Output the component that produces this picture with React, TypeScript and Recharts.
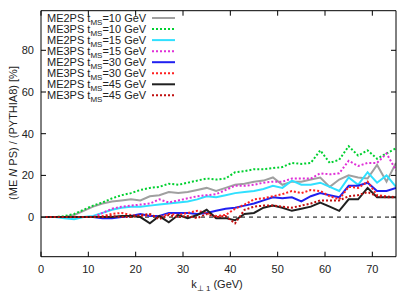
import {
	Legend,
	Line,
	LineChart,
	ReferenceLine,
	XAxis,
	YAxis,
} from "recharts";

// k_T1 bin centres (GeV)
const kValues = [
	1, 3, 5, 7, 9, 11, 13, 15, 17, 19, 21, 23, 25, 27, 29, 31, 33, 35, 37, 39,
	41, 43, 45, 47, 49, 51, 53, 55, 57, 59, 61, 63, 65, 67, 69, 71, 73, 75,
];

const me2ps10 = [
	0, 0, 0, 1, 3, 5, 6.5, 7.5, 8, 8.5, 8, 10, 10.5, 12, 11.5, 12, 13, 14, 12.5,
	14, 15.5, 16, 17, 17.5, 19, 15.5, 17, 17, 18, 19, 14.5, 18, 20, 19, 18.5, 25,
	17, 26,
];
const me3ps10 = [
	0, 0, 0.5, 1.5, 3.5, 5.5, 7, 9, 10.5, 11.5, 13, 14, 14.5, 16, 15.5, 16.5,
	17.5, 18.5, 18, 18.5, 21.5, 22, 23, 23, 23.5, 24, 26, 25.5, 26, 32, 26, 27.5,
	34, 29.5, 32, 28, 30.5, 33,
];
const me2ps15 = [
	0, 0, -0.5, -1, 0, 0.5, 2, 3.5, 4.5, 5, 5, 5.5, 6, 6.5, 7, 7.5, 8.5, 10, 9.5,
	10.5, 11.5, 12, 12.5, 13.5, 15, 14, 17.5, 15.5, 15.5, 16.5, 14.5, 12.5, 19,
	15.5, 21.5, 16.5, 20, 14.5,
];
const me3ps15 = [
	0, 0, 0, 0, 0, 0, 2, 4, 5, 5.5, 6, 6.5, 8.5, 7, 8, 9, 10, 10.5, 11, 13, 15,
	15, 15.5, 16.5, 17, 17, 18.5, 18.5, 18.5, 21, 20.5, 21, 27, 24.5, 26, 26, 30.5,
	22.5,
];
const me2ps30 = [
	0, 0, 0, 0, 0, 0, -0.5, -0.5, 0, 0.5, 1.5, 0.5, 0.5, 2, 2, 2, 1.5, 2, 3, 4,
	4.5, 5.5, 6.5, 8, 9.5, 9, 9.5, 7.5, 10, 11.5, 10.5, 9.5, 15, 15, 16.5, 12.5,
	12.5, 14,
];
const me3ps30 = [
	0, 0, 0, 0, 0, 0, 0.5, 1.5, 2, 1, 0.5, 1, 0, 1.5, 1, 2, 3, 2, 0.5, 1, 4, 6,
	8.5, 9, 10, 11, 12.5, 11.5, 13, 12.5, 10, 8.5, 14.5, 14, 17, 10.5, 10, 9.5,
];
const me2ps45 = [
	0, 0, 0, 0, 0, 0, 0, 0, 0.5, 0.5, 0, -3, 0.5, -2.5, 1, -0.5, 1, 3.5, -0.5,
	-0.5, -1.5, 1.5, 2, 4.5, 5.5, 4.5, 3, 4, 5, 7, 5, 3, 8.5, 8.5, 14, 9.5, 9.5,
	9.5,
];
const me3ps45 = [
	0, 0, 0, 0, 0, 0, 0, 0.5, 0, 0, 1, 1.5, -1, 1, 0, 0.5, -0.5, 1.5, 0, 0.5, -3,
	3.5, 5, 5.5, 5.5, 5, 4.5, 5.5, 6.5, 8, 8, 8, 10, 10.5, 12, 10, 9.5, 9.5,
];

const xTicks = [0, 10, 20, 30, 40, 50, 60, 70];
const yTicks = [0, 20, 40, 60, 80];

const series = [
	{ key: "me2ps10", pre: "ME2PS", tms: "10", color: "#a0a0a0", dash: undefined, width: 2 },
	{ key: "me3ps10", pre: "ME3PS", tms: "10", color: "#00d030", dash: "2 2", width: 2 },
	{ key: "me2ps15", pre: "ME2PS", tms: "15", color: "#30e0ff", dash: undefined, width: 2 },
	{ key: "me3ps15", pre: "ME3PS", tms: "15", color: "#e030d8", dash: "2 2", width: 2 },
	{ key: "me2ps30", pre: "ME2PS", tms: "30", color: "#2020f0", dash: undefined, width: 2 },
	{ key: "me3ps30", pre: "ME3PS", tms: "30", color: "#ff2020", dash: "2 2", width: 2 },
	{ key: "me2ps45", pre: "ME2PS", tms: "45", color: "#202020", dash: undefined, width: 2 },
	{ key: "me3ps45", pre: "ME3PS", tms: "45", color: "#c01010", dash: "2 2", width: 2 },
];

const data = kValues.map((k, i) => ({
	k,
	me2ps10: me2ps10[i],
	me3ps10: me3ps10[i],
	me2ps15: me2ps15[i],
	me3ps15: me3ps15[i],
	me2ps30: me2ps30[i],
	me3ps30: me3ps30[i],
	me2ps45: me2ps45[i],
	me3ps45: me3ps45[i],
}));

const font = "'Liberation Sans', Arial, sans-serif";
const tickStyle = { fontSize: 11, fill: "#222", fontFamily: font };
const blank = () => "";

const renderLegend = () => (
	<svg width={140} height={92} style={{ display: "block" }}>
		{series.map((s, i) => {
			const y = 6 + i * 11.05;
			return (
				<g key={s.key}>
					<text x={0} y={y + 4} fontSize={11} fontFamily={font} fill="#222">
						{s.pre} t
						<tspan dy={3} fontSize={8}>
							MS
						</tspan>
						<tspan dy={-3}>={s.tms} GeV</tspan>
					</text>
					<line
						x1={105}
						x2={128}
						y1={y}
						y2={y}
						stroke={s.color}
						strokeWidth={s.width}
						strokeDasharray={s.dash}
					/>
				</g>
			);
		})}
	</svg>
);

export default function App() {
	return (
		<div style={{ position: "absolute", left: 0, top: 0, width: 415, height: 293 }}>
			<LineChart
				width={415}
				height={293}
				data={data}
				margin={{ top: 10.7, right: 19, bottom: 0, left: 0 }}
			>
				{/* labelled axes */}
				<XAxis
					dataKey="k"
					type="number"
					domain={[0, 75]}
					ticks={xTicks}
					allowDataOverflow
					height={36.3}
					tickLine={false}
					tickSize={6}
					tickMargin={2}
					tick={tickStyle}
					axisLine={{ stroke: "#000", strokeWidth: 1 }}
				/>
				<YAxis
					type="number"
					domain={[-19, 99]}
					ticks={yTicks}
					allowDataOverflow
					width={41}
					tickLine={false}
					tickSize={6}
					tickMargin={1}
					tick={tickStyle}
					axisLine={{ stroke: "#000", strokeWidth: 1 }}
				/>
				{/* inward tick marks on all four sides */}
				<XAxis
					xAxisId="bt"
					orientation="bottom"
					dataKey="k"
					type="number"
					domain={[0, 75]}
					ticks={xTicks}
					allowDataOverflow
					mirror
					tickSize={5}
					tickFormatter={blank}
					axisLine={false}
					tickLine={{ stroke: "#000" }}
				/>
				<XAxis
					xAxisId="top"
					orientation="top"
					dataKey="k"
					type="number"
					domain={[0, 75]}
					ticks={xTicks}
					allowDataOverflow
					mirror
					tickSize={5}
					tickFormatter={blank}
					axisLine={{ stroke: "#000", strokeWidth: 1 }}
					tickLine={{ stroke: "#000" }}
				/>
				<YAxis
					yAxisId="lt"
					orientation="left"
					type="number"
					domain={[-19, 99]}
					ticks={yTicks}
					allowDataOverflow
					mirror
					tickSize={5}
					tickFormatter={blank}
					axisLine={false}
					tickLine={{ stroke: "#000" }}
				/>
				<YAxis
					yAxisId="right"
					orientation="right"
					type="number"
					domain={[-19, 99]}
					ticks={yTicks}
					allowDataOverflow
					mirror
					tickSize={5}
					tickFormatter={blank}
					axisLine={{ stroke: "#000", strokeWidth: 1 }}
					tickLine={{ stroke: "#000" }}
				/>
				<ReferenceLine y={0} stroke="#000" strokeDasharray="4 4" strokeWidth={1} />
				{series.map((s) => (
					<Line
						key={s.key}
						dataKey={s.key}
						type="linear"
						stroke={s.color}
						strokeWidth={s.width}
						strokeDasharray={s.dash}
						dot={false}
						activeDot={false}
						isAnimationActive={false}
					/>
				))}
				<Legend
					layout="vertical"
					align="center"
					verticalAlign="middle"
					content={renderLegend}
					wrapperStyle={{ position: "absolute", left: 47, top: 12, width: 140, height: 92 }}
				/>
			</LineChart>
			<svg
				width={415}
				height={293}
				style={{ position: "absolute", left: 0, top: 0, pointerEvents: "none" }}
			>
				<text
					transform="translate(17,133) rotate(-90)"
					textAnchor="middle"
					fontSize={11}
					fontFamily={font}
					fill="#222"
				>
					(ME <tspan fontStyle="italic">N</tspan> PS) / (PYTHIA8) [%]
				</text>
				<text x={217} y={288} textAnchor="middle" fontSize={11} fontFamily={font} fill="#222">
					k
					<tspan dy={3} fontSize={8}>
						⊥ 1
					</tspan>
					<tspan dy={-3}> (GeV)</tspan>
				</text>
			</svg>
		</div>
	);
}
